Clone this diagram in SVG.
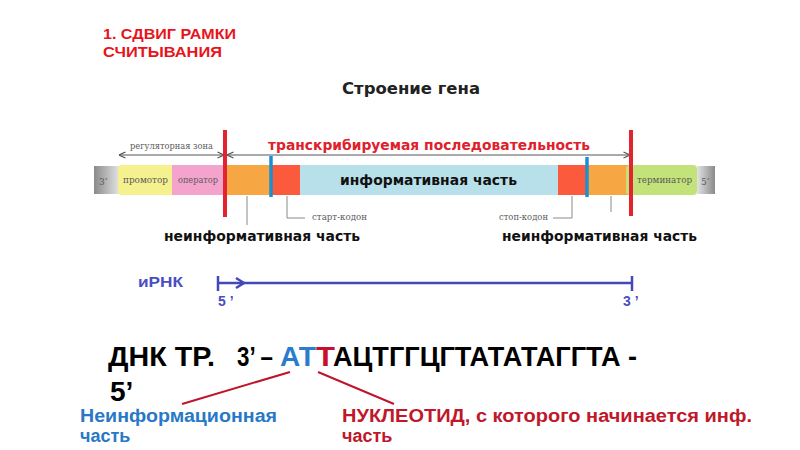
<svg xmlns="http://www.w3.org/2000/svg" width="800" height="450" viewBox="0 0 800 450">
  <defs>
    <linearGradient id="gEnd3" x1="0" y1="0" x2="1" y2="0">
      <stop offset="0" stop-color="#8a8a8a"/>
      <stop offset="1" stop-color="#e2e2e2"/>
    </linearGradient>
    <linearGradient id="gEnd5" x1="0" y1="0" x2="1" y2="0">
      <stop offset="0" stop-color="#e2e2e2"/>
      <stop offset="1" stop-color="#8a8a8a"/>
    </linearGradient>
    <marker id="arrO" viewBox="0 0 8 8" refX="7.5" refY="4" markerWidth="8" markerHeight="8" markerUnits="userSpaceOnUse" orient="auto-start-reverse">
      <path d="M1,1 L7.5,4 L1,7" fill="none" stroke="#555" stroke-width="1.2"/>
    </marker>
    <style>
      .sans { font-family: "Liberation Sans", Arial, sans-serif; }
      .wide { font-family: "DejaVu Sans", Verdana, sans-serif; font-weight: bold; }
      .serif { font-family: "DejaVu Serif", "Liberation Serif", serif; fill: #5a5a5a; font-size: 9px; }
      .b { font-weight: bold; }
      .lead { fill: none; stroke: #8a8a8a; stroke-width: 1; }
      .redbar { stroke: #e3232d; stroke-width: 4; }
      .bluebar { stroke: #1b8fd2; stroke-width: 3.5; }
      .rna { stroke: #4347b8; stroke-width: 2.5; fill: none; }
      .rnat { fill: #4a4ec2; font-size: 14px; }
      .ptr { stroke: #c0142a; stroke-width: 2; }
    </style>
  </defs>
  <rect width="800" height="450" fill="#ffffff"/>

  <g id="title">
    <text class="sans b" x="103" y="39" font-size="15" fill="#e8141c" textLength="133" lengthAdjust="spacingAndGlyphs">1. СДВИГ РАМКИ</text>
    <text class="sans b" x="103" y="57" font-size="15" fill="#e8141c" textLength="119" lengthAdjust="spacingAndGlyphs">СЧИТЫВАНИЯ</text>
  </g>

  <g id="gene-title">
    <text class="wide" x="342" y="94" font-size="15" fill="#222" textLength="138" lengthAdjust="spacingAndGlyphs">Строение гена</text>
  </g>

  <g id="gene-bar">
    <g id="end3">
      <rect x="94" y="166" width="25" height="28" fill="url(#gEnd3)"/>
      <text class="serif" x="99" y="185" font-size="12" fill="#3a3a3a">3’</text>
    </g>
    <g id="promoter">
      <rect x="118" y="165" width="60" height="30" rx="4" fill="#f4f18e"/>
      <text class="serif" x="123" y="183" textLength="45" lengthAdjust="spacingAndGlyphs">промотор</text>
    </g>
    <g id="operator">
      <rect x="172" y="165" width="53" height="30" fill="#f4a3cd"/>
      <text class="serif" x="178" y="183" textLength="40" lengthAdjust="spacingAndGlyphs">оператор</text>
    </g>
    <rect id="noninf-left" x="225" y="165" width="47" height="30" fill="#f6a744"/>
    <rect id="start-codon" x="272" y="165" width="28" height="30" fill="#fb5a3d"/>
    <g id="informative">
      <rect x="300" y="165" width="258" height="30" fill="#b8e0ea"/>
      <text class="wide" x="340" y="185" font-size="14" fill="#111" textLength="177" lengthAdjust="spacingAndGlyphs">информативная часть</text>
    </g>
    <rect id="stop-codon" x="558" y="165" width="29" height="30" fill="#fb5a3d"/>
    <rect id="noninf-right" x="587" y="165" width="45" height="30" fill="#f6a744"/>
    <g id="terminator">
      <rect x="626" y="165" width="71" height="30" rx="4" fill="#c4e27a"/>
      <rect x="632" y="165" width="20" height="30" fill="#c4e27a"/>
      <text class="serif" x="637" y="183" fill="#4d5a40" textLength="55" lengthAdjust="spacingAndGlyphs">терминатор</text>
    </g>
    <g id="end5">
      <rect x="697" y="166" width="18" height="28" fill="url(#gEnd5)"/>
      <text class="serif" x="701" y="185" font-size="12" fill="#3a3a3a">5’</text>
    </g>
  </g>

  <g id="labels">
    <text class="serif" x="130" y="149" font-size="8.5" textLength="83" lengthAdjust="spacingAndGlyphs">регуляторная зона</text>
    <text class="wide" x="268" y="150" font-size="14" fill="#e0202b" textLength="322" lengthAdjust="spacingAndGlyphs">транскрибируемая последовательность</text>
    <text class="serif" x="312" y="220" font-size="8.5" textLength="55" lengthAdjust="spacingAndGlyphs">старт-кодон</text>
    <text class="serif" x="499" y="220" font-size="8.5" textLength="49" lengthAdjust="spacingAndGlyphs">стоп-кодон</text>
    <text class="wide" x="164" y="241" font-size="13.5" fill="#111" textLength="196" lengthAdjust="spacingAndGlyphs">неинформативная часть</text>
    <text class="wide" x="502" y="241" font-size="13.5" fill="#111" textLength="195" lengthAdjust="spacingAndGlyphs">неинформативная часть</text>
  </g>

  <g id="connectors">
    <line x1="119" y1="155" x2="224" y2="155" stroke="#555" stroke-width="1" marker-start="url(#arrO)" marker-end="url(#arrO)"/>
    <line x1="227" y1="155" x2="630" y2="155" stroke="#555" stroke-width="1" marker-start="url(#arrO)" marker-end="url(#arrO)"/>
    <line class="redbar" x1="225" y1="130" x2="225" y2="217"/>
    <line class="redbar" x1="631" y1="130" x2="631" y2="216"/>
    <line class="bluebar" x1="271" y1="156" x2="271" y2="197"/>
    <line class="bluebar" x1="587" y1="157" x2="587" y2="197"/>
    <polyline class="lead" points="287,196 287,218 305,218"/>
    <line class="lead" x1="247" y1="196" x2="247" y2="225"/>
    <polyline class="lead" points="572,196 572,218 553,218"/>
    <line class="lead" x1="611" y1="196" x2="611" y2="212"/>
    <line class="ptr" x1="290" y1="372" x2="182" y2="404"/>
    <line class="ptr" x1="318" y1="372" x2="394" y2="404"/>
  </g>

  <g id="mrna">
    <text class="sans b rnat" x="138" y="287" font-size="15" textLength="45" lengthAdjust="spacingAndGlyphs">иРНК</text>
    <line class="rna" x1="218" y1="283" x2="632" y2="283"/>
    <line class="rna" x1="218" y1="276" x2="218" y2="291"/>
    <line class="rna" x1="632" y1="276" x2="632" y2="291"/>
    <polyline class="rna" points="236,278 244,283 236,288"/>
    <text class="sans b rnat" x="218" y="306">5 ’</text>
    <text class="sans b rnat" x="623" y="306">3 ’</text>
  </g>

  <g id="dna">
    <text class="sans b" y="366" font-size="28" fill="#000">
      <tspan x="108" textLength="107" lengthAdjust="spacingAndGlyphs">ДНК ТР.</tspan>
      <tspan x="237" textLength="36" lengthAdjust="spacingAndGlyphs">3’ –</tspan>
      <tspan x="280" fill="#2a7ccc" textLength="36" lengthAdjust="spacingAndGlyphs">АТ</tspan><tspan fill="#c8102e" textLength="17" lengthAdjust="spacingAndGlyphs">Т</tspan><tspan textLength="304" lengthAdjust="spacingAndGlyphs">АЦТГГЦГТАТАТАГГТА -</tspan>
    </text>
    <text class="sans b" x="110" y="401" font-size="28" fill="#000">5’</text>
  </g>

  <g id="note-noninf">
    <text class="sans b" x="80" y="422" font-size="18" fill="#2878c8" textLength="197" lengthAdjust="spacingAndGlyphs">Неинформационная</text>
    <text class="sans b" x="80" y="442" font-size="18" fill="#2878c8">часть</text>
  </g>

  <g id="note-nucleotide">
    <text class="sans b" x="342" y="422" font-size="18" fill="#c0182a" textLength="410" lengthAdjust="spacingAndGlyphs">НУКЛЕОТИД, с которого начинается инф.</text>
    <text class="sans b" x="342" y="442" font-size="18" fill="#c0182a">часть</text>
  </g>
</svg>
